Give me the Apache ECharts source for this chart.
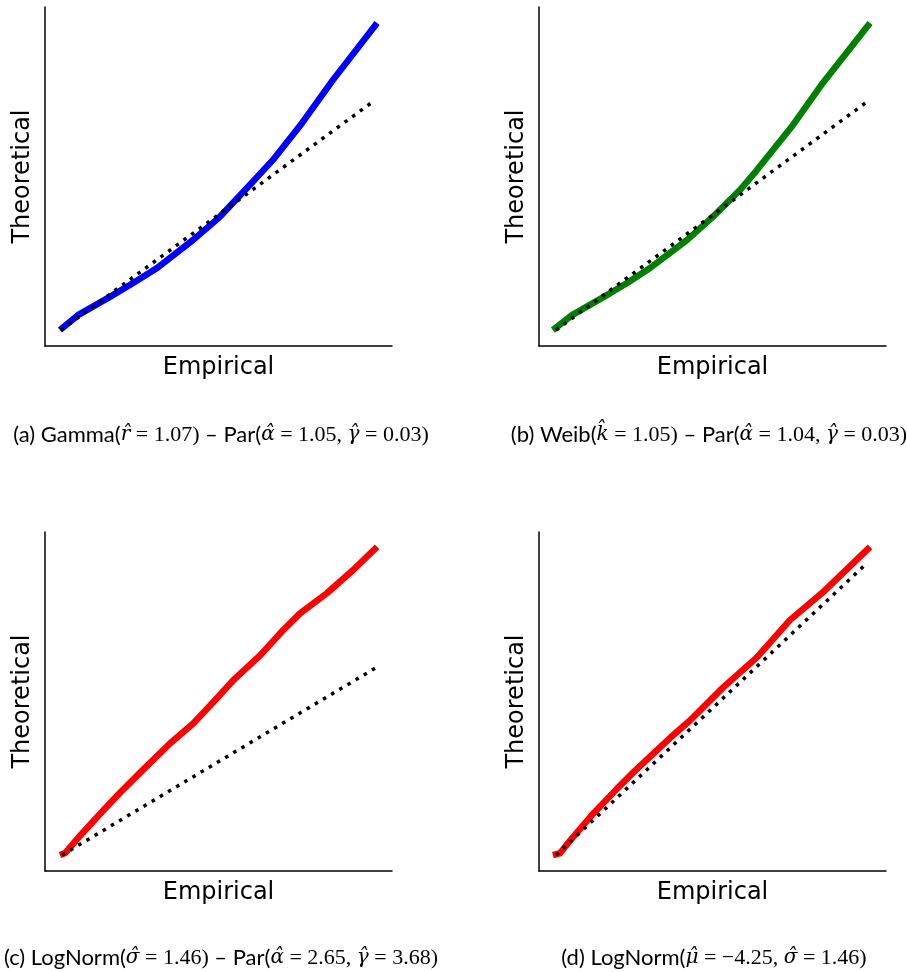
<!DOCTYPE html>
<html>
<head>
<meta charset="utf-8">
<script src="https://cdn.jsdelivr.net/npm/echarts@6/dist/echarts.min.js"></script>
<style>
  html, body { margin: 0; padding: 0; background: #fff; }
  #qq { width: 907px; height: 972px; }
</style>
</head>
<body>
<div id="qq"></div>
<script>
var dom = document.getElementById("qq");
var myChart = echarts.init(dom);

// (a) Gamma - Pareto
var gammaEmp  = [4.3, 9.5, 18.7, 25.4, 32.3, 42.7, 50.4, 58.2, 65.7, 74.1, 83.0, 95.7];
var gammaTheo = [4.7, 9.1, 14.5, 18.6, 23.0, 31.3, 38.1, 46.6, 54.9, 65.8, 78.5, 95.3];
var gammaRefEmp  = [4.6, 94.8];
var gammaRefTheo = [4.7, 72.3];

// (b) Weibull - Pareto
var weibEmp  = [4.0, 9.5, 18.2, 25.4, 32.0, 42.7, 50.1, 57.9, 62.8, 73.2, 81.8, 95.4];
var weibTheo = [4.7, 9.1, 14.2, 18.6, 23.0, 31.3, 38.1, 46.0, 51.9, 65.2, 77.6, 95.3];
var weibRefEmp  = [4.9, 94.5];
var weibRefTheo = [4.7, 72.0];

// (c) LogNormal - Pareto
var lnParEmp  = [4.3, 5.8, 10.1, 15.9, 21.6, 28.0, 36.0, 42.7, 48.4, 54.2, 62.0, 68.6, 73.5, 81.3, 88.8, 95.7];
var lnParTheo = [4.7, 5.3, 10.4, 16.9, 23.1, 29.6, 37.6, 43.5, 49.7, 56.2, 63.6, 71.0, 76.0, 82.0, 88.8, 95.6];
var lnParRefEmp  = [4.9, 95.1];
var lnParRefTheo = [4.7, 59.8];

// (d) LogNormal
var lnEmp  = [4.0, 6.1, 8.9, 15.6, 22.5, 27.7, 37.8, 43.5, 53.0, 62.8, 72.3, 81.8, 95.4];
var lnTheo = [4.7, 5.3, 8.9, 16.9, 24.3, 29.6, 39.3, 44.4, 54.1, 63.0, 74.0, 82.2, 95.6];
var lnRefEmp  = [4.9, 94.5];
var lnRefTheo = [4.7, 90.8];

// caption pieces: s = text font, m = hatted math symbol, n = math numbers
var captions = [
    '{s|(a) Gamma(}{m|r\u0302}{n| = 1.07)}{s| \u2013 Par(}{m|\u03b1\u0302}{n| = 1.05, }{m|\u03b3\u0302}{n| = 0.03)}',
    '{s|(b) Weib(}{m|k\u0302}{n| = 1.05)}{s| \u2013 Par(}{m|\u03b1\u0302}{n| = 1.04, }{m|\u03b3\u0302}{n| = 0.03)}',
    '{s|(c) LogNorm(}{m|\u03c3\u0302}{n| = 1.46)}{s| \u2013 Par(}{m|\u03b1\u0302}{n| = 2.65, }{m|\u03b3\u0302}{n| = 3.68)}',
    '{s|(d) LogNorm(}{m|\u03bc\u0302}{n| = \u22124.25, }{m|\u03c3\u0302}{n| = 1.46)}'
];

var panels = [
    {emp: gammaEmp, theo: gammaTheo, rx: gammaRefEmp, ry: gammaRefTheo, color: '#0000ff'},
    {emp: weibEmp,  theo: weibTheo,  rx: weibRefEmp,  ry: weibRefTheo,  color: '#008000'},
    {emp: lnParEmp, theo: lnParTheo, rx: lnParRefEmp, ry: lnParRefTheo, color: '#ff0000'},
    {emp: lnEmp,    theo: lnTheo,    rx: lnRefEmp,    ry: lnRefTheo,    color: '#ff0000'}
];

var gridPos = [
    {left: 45,  top: 7},
    {left: 539, top: 7},
    {left: 45,  top: 532},
    {left: 539, top: 532}
];
var captionPos = [
    {x: 216, y: 419},
    {x: 704, y: 419},
    {x: 216, y: 942},
    {x: 709, y: 942}
];

function zip(xs, ys) {
    return xs.map(function (x, i) { return [x, ys[i]]; });
}

var axisLine = {show: true, onZero: false, lineStyle: {color: '#000', width: 1.5}};
var nameFont = {fontFamily: 'DejaVu Sans', fontSize: 24, color: '#000'};

var grids = [], xAxes = [], yAxes = [], series = [], titles = [];
panels.forEach(function (p, i) {
    grids.push({left: gridPos[i].left, top: gridPos[i].top, width: 347, height: 339});
    xAxes.push({
        type: 'value', gridIndex: i, min: 0, max: 100,
        name: 'Empirical', nameLocation: 'middle', nameGap: 10,
        nameTextStyle: nameFont,
        axisLine: axisLine, axisTick: {show: false}, axisLabel: {show: false}, splitLine: {show: false}
    });
    yAxes.push({
        type: 'value', gridIndex: i, min: 0, max: 100,
        name: 'Theoretical', nameLocation: 'middle', nameGap: 10,
        nameTextStyle: nameFont,
        axisLine: axisLine, axisTick: {show: false}, axisLabel: {show: false}, splitLine: {show: false}
    });
    series.push({
        type: 'line', xAxisIndex: i, yAxisIndex: i,
        data: zip(p.emp, p.theo), showSymbol: false, silent: true,
        lineStyle: {color: p.color, width: 6.5, cap: 'butt', join: 'round'}
    });
    series.push({
        type: 'line', xAxisIndex: i, yAxisIndex: i, z: 3,
        data: zip(p.rx, p.ry), showSymbol: false, silent: true,
        lineStyle: {color: '#000', width: 3.5, type: [3.5, 6], cap: 'butt'}
    });
    titles.push({
        text: captions[i],
        left: captionPos[i].x, top: captionPos[i].y,
        textAlign: 'center',
        textStyle: {
            color: '#000', fontWeight: 'normal',
            rich: {
                s: {fontFamily: 'Lato', fontSize: 22, fontWeight: 'normal', color: '#000'},
                n: {fontFamily: 'Liberation Serif', fontSize: 22, fontWeight: 'normal', color: '#000'},
                m: {fontFamily: 'DejaVu Serif', fontStyle: 'italic', fontSize: 20, fontWeight: 'normal', color: '#000'}
            }
        }
    });
});

option = {
    backgroundColor: '#fff',
    animation: false,
    title: titles,
    grid: grids,
    xAxis: xAxes,
    yAxis: yAxes,
    series: series
};

if (option && typeof option === "object") {
    myChart.setOption(option, true);
}
</script>
</body>
</html>
